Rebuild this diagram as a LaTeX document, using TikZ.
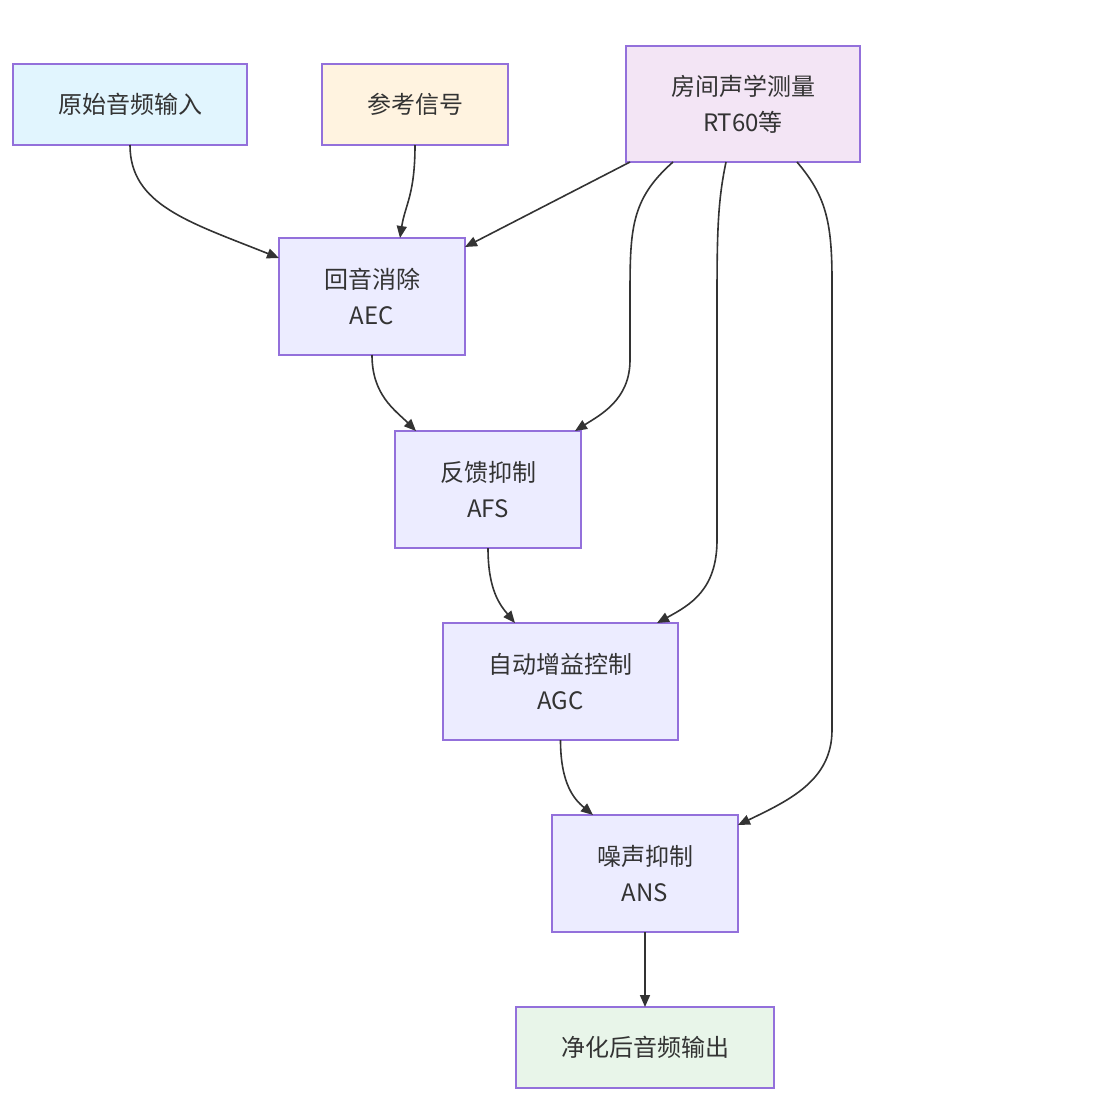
\documentclass[tikz,border=0pt]{standalone}
\usepackage{fontspec}
\setmainfont{Noto Sans CJK SC}
\usetikzlibrary{arrows.meta,calc}
\definecolor{boxline}{HTML}{9370DB}
\definecolor{stagefill}{HTML}{ECECFF}
\definecolor{inputfill}{HTML}{E1F5FE}
\definecolor{reffill}{HTML}{FFF3E0}
\definecolor{roomfill}{HTML}{F3E5F5}
\definecolor{outfill}{HTML}{E8F5E9}
\definecolor{txt}{HTML}{333333}
\begin{document}
\begin{tikzpicture}[x=0.5pt, y=-0.5pt,
   every node/.style={draw=boxline, line width=1pt, fill=stagefill, text=txt,
                      align=center, inner sep=0pt, outer sep=0pt,
                      font=\fontsize{12pt}{18pt}\selectfont},
   short/.style={minimum height=40.5pt},
   tall/.style={minimum height=58.5pt},
   link/.style={draw=txt, line width=0.8pt, -{Triangle[length=6pt,width=5pt]}}]

\useasboundingbox (0,0) rectangle (1107,1108);

% sources
\node[short, fill=inputfill, minimum width=117pt] (src) at (130,104.5) {原始音频输入};
\node[short, fill=reffill, minimum width=93pt] (refsig) at (415,104.5) {参考信号};
\node[tall, fill=roomfill, minimum width=117pt, minimum height=58pt] (room) at (743,104) {房间声学测量\\RT60等};

% processing chain
\node[tall, minimum width=93pt] (aec) at (372,296.5) {回音消除\\AEC};
\node[tall, minimum width=93pt] (afs) at (488,489.5) {反馈抑制\\AFS};
\node[tall, minimum width=117.5pt] (agc) at (560.5,681.5) {自动增益控制\\AGC};
\node[tall, minimum width=93pt] (ans) at (645,873.5) {噪声抑制\\ANS};
\node[short, fill=outfill, minimum width=129pt] (clean) at (645,1047.5) {净化后音频输出};

% links
\draw[link] (src.south) .. controls +(0,60) and (189,222) .. ($(aec.north west)+(0,20)$);
\draw[link] (refsig.south) .. controls +(0,50) and (405,205) .. ($(aec.north)+(28,0)$);
\draw[link] ($(room.south west)+(4,0)$) -- ($(aec.north east)+(0,9)$);
\draw[link] ($(room.south west)+(47,0)$) .. controls (630,200) and (630,230) .. (630,300)
   -- (630,360) .. controls (630,400) and (600,415) .. ($(afs.north east)+(-6,0)$);
\draw[link] ($(room.south west)+(100,0)$) .. controls (718,200) and (717,230) .. (717,300)
   -- (717,540) .. controls (717,590) and (690,605) .. ($(agc.north east)+(-21,0)$);
\draw[link] ($(room.south west)+(171,0)$) .. controls (825,195) and (832,220) .. (832,280)
   -- (832,730) .. controls (832,780) and (790,800) .. ($(ans.north east)+(0,10)$);
\draw[link] (aec.south) .. controls +(0,40) and (395,410) .. ($(afs.north west)+(21,0)$);
\draw[link] (afs.south) .. controls +(0,42) and (500,605) .. ($(agc.north west)+(72,0)$);
\draw[link] (agc.south) .. controls +(0,45) and (575,800) .. ($(ans.north west)+(41,0)$);
\draw[link] (ans) -- (clean);

\end{tikzpicture}
\end{document}
